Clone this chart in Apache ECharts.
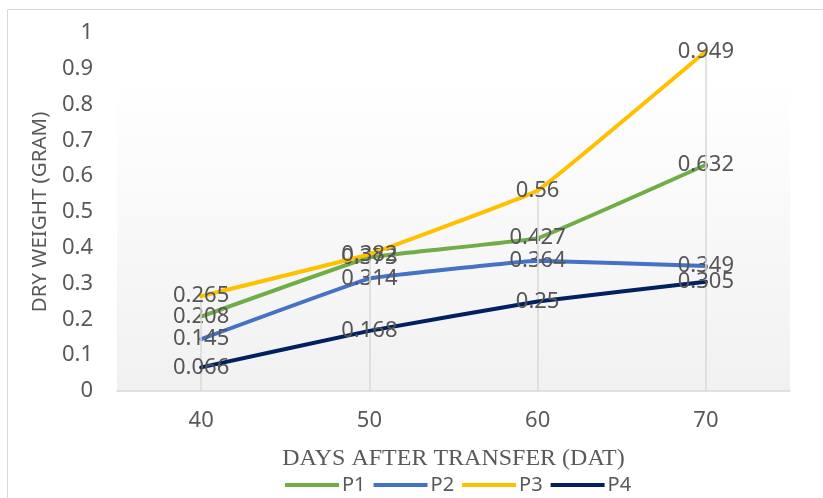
<!DOCTYPE html>
<html>
<head>
<meta charset="utf-8">
<script src="https://cdn.jsdelivr.net/npm/echarts@6/dist/echarts.min.js"></script>
<style>
  html, body { margin: 0; padding: 0; background: #ffffff; }
  #chart { width: 823px; height: 498px; }
</style>
</head>
<body>
<div id="chart"></div>
<script>
// Days after transfer
const days = ['40', '50', '60', '70'];
// Dry weight (gram) per treatment
const p1 = [0.208, 0.373, 0.427, 0.632];
const p2 = [0.145, 0.314, 0.364, 0.349];
const p3 = [0.265, 0.382, 0.56, 0.949];
const p4 = [0.066, 0.168, 0.25, 0.305];
const seriesNames = ['P1', 'P2', 'P3', 'P4'];
const seriesColors = ['#70AD47', '#4472C4', '#FFC000', '#002060'];
const seriesValues = [p1, p2, p3, p4];

// Drop lines: from the axis up to the highest value at each day
const dropTops = days.map((d, i) => Math.max(p1[i], p2[i], p3[i], p4[i]));

const chart = echarts.init(document.getElementById('chart'), null, { renderer: 'canvas' });

const textColor = '#595959';
const sansFont = '"Noto Sans", "Open Sans", sans-serif';

const series = seriesNames.map((name, k) => ({
  name: name,
  type: 'line',
  data: seriesValues[k],
  smooth: 0.06,
  symbol: 'circle',
  symbolSize: 0.1,
  z: 3 + k,
  lineStyle: { color: seriesColors[k], width: 4, cap: 'round', join: 'round' },
  itemStyle: { color: seriesColors[k] },
  label: {
    show: true,
    position: 'inside',
    color: '#555555',
    fontFamily: sansFont,
    fontSize: 22,
    formatter: (p) => String(p.value)
  },
  emphasis: { disabled: true }
}));

// Vertical drop lines drawn beneath the curves
series.unshift({
  name: 'drop',
  type: 'line',
  data: [],
  z: 1,
  silent: true,
  markLine: {
    silent: true,
    symbol: 'none',
    label: { show: false },
    lineStyle: { color: '#d9d9d9', width: 1.5, type: 'solid' },
    data: days.map((d, i) => [
      { coord: [d, 0] },
      { coord: [d, dropTops[i]] }
    ])
  }
});

chart.setOption({
  animation: false,
  backgroundColor: '#ffffff',
  graphic: [{
    type: 'rect',
    shape: { x: 7.5, y: 9.5, width: 830, height: 500 },
    style: { fill: 'none', stroke: '#d9d9d9', lineWidth: 1 },
    silent: true,
    z: -10
  }],
  grid: {
    left: 117,
    right: 33,
    top: 33,
    bottom: 107,
    show: true,
    borderWidth: 0,
    backgroundColor: {
      type: 'linear', x: 0, y: 0, x2: 0, y2: 1,
      colorStops: [
        { offset: 0, color: '#ffffff' },
        { offset: 0.13, color: '#ffffff' },
        { offset: 1, color: '#f1f1f1' }
      ]
    }
  },
  legend: {
    data: seriesNames,
    top: 475,
    left: 285,
    icon: 'rect',
    itemWidth: 54,
    itemHeight: 4,
    itemGap: 8,
    padding: 0,
    textStyle: { color: textColor, fontFamily: sansFont, fontSize: 20, padding: [0, 0, 0, -2] }
  },
  xAxis: {
    type: 'category',
    data: days,
    boundaryGap: true,
    axisLine: { lineStyle: { color: '#d9d9d9', width: 1.5 } },
    axisTick: { show: false },
    axisLabel: { color: textColor, fontFamily: sansFont, fontSize: 22, margin: 19 },
    splitLine: { show: false },
    name: 'DAYS AFTER TRANSFER (DAT)',
    nameLocation: 'middle',
    nameGap: 56,
    nameTextStyle: { color: textColor, fontFamily: '"Liberation Serif", "Times New Roman", serif', fontSize: 24 }
  },
  yAxis: {
    type: 'value',
    min: 0,
    max: 1,
    interval: 0.1,
    axisLine: { show: false },
    axisTick: { show: false },
    splitLine: { show: false },
    axisLabel: {
      color: textColor, fontFamily: sansFont, fontSize: 22, margin: 24,
      formatter: (v) => String(Math.round(v * 10) / 10)
    },
    name: 'DRY WEIGHT (GRAM)',
    nameLocation: 'middle',
    nameGap: 62,
    nameRotate: 90,
    nameTextStyle: { color: textColor, fontFamily: sansFont, fontSize: 20.5 }
  },
  series: series
});
</script>
</body>
</html>
